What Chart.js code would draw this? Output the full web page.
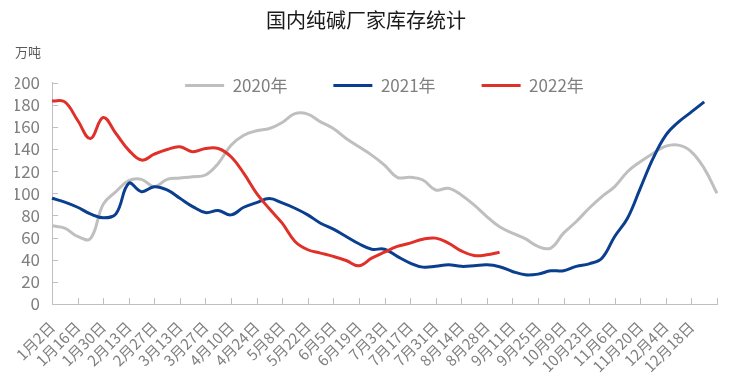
<!DOCTYPE html>
<html>
<head>
<meta charset="utf-8">
<script src="https://cdn.jsdelivr.net/npm/chart.js@4/dist/chart.umd.min.js"></script>
<style>
  html, body { margin: 0; padding: 0; background: #fff; }
  canvas { display: block; }
</style>
</head>
<body>
<canvas id="c" width="737" height="383"></canvas>
<script>
// ---- data ----
const weeks = ['1月2日','1月9日','1月16日','1月23日','1月30日','2月6日','2月13日','2月20日','2月27日',
  '3月6日','3月13日','3月20日','3月27日','4月3日','4月10日','4月17日','4月24日','5月1日','5月8日',
  '5月15日','5月22日','5月29日','6月5日','6月12日','6月19日','6月26日','7月3日','7月10日','7月17日',
  '7月24日','7月31日','8月7日','8月14日','8月21日','8月28日','9月4日','9月11日','9月18日','9月25日',
  '10月2日','10月9日','10月16日','10月23日','10月30日','11月6日','11月13日','11月20日','11月27日',
  '12月4日','12月11日','12月18日','12月25日','1月1日'];
const tickLabels = ['1月2日','1月16日','1月30日','2月13日','2月27日','3月13日','3月27日','4月10日',
  '4月24日','5月8日','5月22日','6月5日','6月19日','7月3日','7月17日','7月31日','8月14日','8月28日',
  '9月11日','9月25日','10月9日','10月23日','11月6日','11月20日','12月4日','12月18日'];
const yTicks = [0, 20, 40, 60, 80, 100, 120, 140, 160, 180, 200];
const seriesNames = ['2020年', '2021年', '2022年'];
const stock2020 = [70.6, 68.5, 61, 59, 90, 101.5, 111.4, 112.6, 106, 112.6, 113.8, 115, 116.5, 127,
  143.5, 152.5, 156.5, 158.5, 164, 172, 171.5, 164.5, 158.5, 149.5, 142, 134.5, 125.5, 114.4, 114.4,
  112, 103, 104.5, 98.5, 89.5, 79, 69.7, 64, 59, 52, 50.5, 64, 74.5, 86.5, 97, 106, 119.5, 128.5,
  136, 142.6, 143.5, 137.5, 122.5, 100];
const stock2021 = [95.5, 92, 87.4, 81.4, 78, 81.4, 109, 101.5, 106, 103, 95.5, 88, 82.6, 84.4, 80.5,
  87.4, 91.6, 95.2, 91.3, 86.5, 80.5, 73, 67.6, 61, 54.4, 49.5, 49.5, 43, 37, 33.3, 34, 35.4, 34,
  34.5, 35.4, 33.7, 29.4, 26.4, 27, 30, 30, 34, 36.3, 41.4, 61, 77.5, 104.5, 131.5, 152.5, 164.5,
  173.5, 182.6];
const stock2022 = [183.5, 182.6, 166, 149.5, 168.5, 154, 139, 130, 135.4, 139.6, 142, 137.5, 140.5,
  140.5, 133, 118, 100, 86, 73, 56.5, 49, 46, 43, 39.3, 34.5, 41.4, 46.8, 52, 55, 58.5, 59.5, 55,
  48, 43.8, 44.4, 46.8];

// ---- style ----
const FONT = '"Noto Sans CJK SC", "Noto Sans", sans-serif';
const colors = ['#BFBFBF', '#0A3E8F', '#E0302A'];
const axisColor = '#BFBFBF';
const textGray = '#7F7F7F';
const LEGEND_PAD = 46;
const LEGEND_FONT = 17;

const innerTicks = {
  id: 'innerTicks',
  afterLayout(chart) {
    const lg = chart.legend;
    if (lg) {
      lg.top = chart.chartArea.top + 3 - LEGEND_PAD - LEGEND_FONT / 2;
      lg.bottom = lg.top + LEGEND_PAD + 30;
      lg.height = lg.bottom - lg.top;
    }
  },
  afterDraw(chart) {
    const {ctx, chartArea} = chart;
    const xs = chart.scales.x, ys = chart.scales.y;
    ctx.save();
    ctx.strokeStyle = axisColor;
    ctx.lineWidth = 1;
    ctx.beginPath();
    weeks.forEach((w, i) => {
      if (i % 2 !== 0) return;
      const px = Math.round(xs.getPixelForValue(i)) + 0.5;
      ctx.moveTo(px, chartArea.bottom);
      ctx.lineTo(px, chartArea.bottom - 6);
    });
    ys.ticks.forEach(t => {
      const py = Math.round(ys.getPixelForValue(t.value)) + 0.5;
      ctx.moveTo(chartArea.left, py);
      ctx.lineTo(chartArea.left + 6, py);
    });
    ctx.stroke();
    ctx.restore();
  }
};

const datasets = [stock2020, stock2021, stock2022].map((d, i) => ({
  label: seriesNames[i],
  data: d,
  borderColor: colors[i],
  backgroundColor: colors[i],
  borderWidth: 3,
  pointRadius: 0,
  tension: 0.4,
  fill: false,
  order: 3 - i
}));

new Chart(document.getElementById('c'), {
  type: 'line',
  data: { labels: weeks, datasets },
  plugins: [innerTicks],
  options: {
    responsive: false,
    animation: false,
    devicePixelRatio: 1,
    layout: { padding: { left: 15, right: 20, top: 0, bottom: 0 } },
    plugins: {
      tooltip: { enabled: false },
      title: {
        display: true,
        text: '国内纯碱厂家库存统计',
        color: '#1A1A1A',
        font: { family: FONT, size: 20, weight: 'normal', lineHeight: 1.2 },
        padding: { top: 8, bottom: 4 }
      },
      subtitle: {
        display: true,
        text: '万吨',
        align: 'start',
        color: '#595959',
        font: { family: FONT, size: 13, weight: 'normal', lineHeight: 1.2 },
        padding: { top: 8, bottom: 0 }
      },
      legend: {
        display: true,
        position: 'top',
        fullSize: false,
        maxHeight: 23,
        labels: {
          color: textGray,
          font: { family: FONT, size: LEGEND_FONT },
          boxWidth: 39,
          boxHeight: 3,
          padding: LEGEND_PAD,
          sort: (a, b) => a.datasetIndex - b.datasetIndex,
          generateLabels(chart) {
            return Chart.defaults.plugins.legend.labels.generateLabels(chart).map(l => {
              l.fillStyle = colors[l.datasetIndex];
              l.strokeStyle = colors[l.datasetIndex];
              l.lineWidth = 0;
              return l;
            });
          }
        }
      }
    },
    scales: {
      x: {
        type: 'category',
        offset: false,
        grid: { display: true, drawOnChartArea: false, drawTicks: false },
        border: { display: true, color: axisColor, width: 1 },
        ticks: {
          autoSkip: false,
          maxRotation: 45,
          minRotation: 45,
          padding: 14,
          color: textGray,
          font: { family: FONT, size: 15 },
          callback: (v, i) => tickLabels.includes(weeks[i]) && i < weeks.length - 1 ? weeks[i] : ''
        },
        afterFit(scale) { scale.height = 79; scale.paddingLeft = 0; scale.paddingRight = 0; }
      },
      y: {
        min: 0,
        max: 200,
        afterBuildTicks(scale) { scale.ticks = yTicks.map(v => ({ value: v })); },
        grid: { display: true, drawOnChartArea: false, drawTicks: false },
        border: { display: true, color: axisColor, width: 1 },
        ticks: {
          autoSkip: false,
          padding: 12,
          color: textGray,
          font: { family: FONT, size: 17 }
        },
        afterFit(scale) { scale.width = 37; }
      }
    }
  }
});
</script>
</body>
</html>
